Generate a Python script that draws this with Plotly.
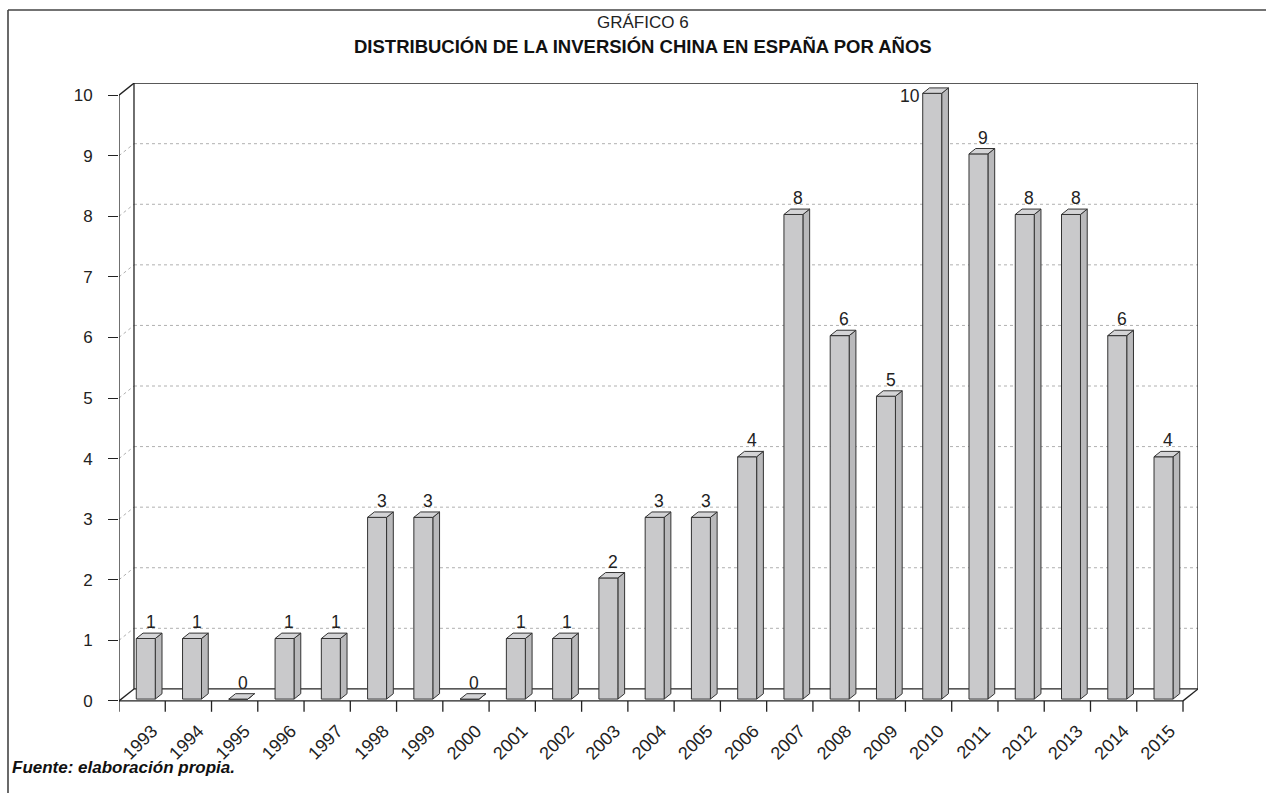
import plotly.graph_objects as go

# data
years = [str(y) for y in range(1993, 2016)]
values = [1, 1, 0, 1, 1, 3, 3, 0, 1, 1, 2, 3, 3, 4, 8, 6, 5, 10, 9, 8, 8, 6, 4]
y_ticks = list(range(0, 11))

W, H = 1266, 793
L, R, T, B = 119, 68, 83, 80
FONT = 'Liberation Sans, Arial, Helvetica, sans-serif'
INK = '#222222'

# fake 3D: depth of the box walls in axis units
DX, DY = 0.324, 0.198
X0, X1 = -0.5, len(years) - 0.5
YTOP = max(y_ticks)
# bars sit between these depth fractions
F0, F1 = 0.15, 0.6
HW, SHIFT = 0.205, 0.03


def px(x, y):
    """pixel position -> paper coords"""
    return (x - L) / (W - L - R), (H - B - y) / (H - T - B)


def box_faces(vals):
    front_x, front_y, side_x, side_y, top_x, top_y = [], [], [], [], [], []
    d = (F1 - F0) * DX
    for i, v in enumerate(vals):
        xl = i + SHIFT - HW + F0 * DX
        xr = i + SHIFT + HW + F0 * DX
        yb = F0 * DY
        yt = v + F0 * DY
        front_x += [xl, xr, xr, xl, xl, None]
        front_y += [yb, yb, yt, yt, yb, None]
        side_x += [xr, xr + d, xr + d, xr, xr, None]
        side_y += [yb, yb + (F1 - F0) * DY, yt + (F1 - F0) * DY, yt, yb, None]
        top_x += [xl, xr, xr + d, xl + d, xl, None]
        top_y += [yt, yt, yt + (F1 - F0) * DY, yt + (F1 - F0) * DY, yt, None]
    return (front_x, front_y), (side_x, side_y), (top_x, top_y)


fig = go.Figure()
front, side, top = box_faces(values)
for (xs, ys), col in [(side, '#b9b9bb'), (front, '#c9c9cb'), (top, '#d4d4d6')]:
    fig.add_trace(go.Scatter(
        x=xs, y=ys, mode='lines', fill='toself', fillcolor=col,
        line=dict(color='#333333', width=1), hoverinfo='skip', showlegend=False,
    ))

shapes = []


def seg(x0, y0, x1, y1, color=INK, width=1.3, dash='solid'):
    shapes.append(dict(type='line', xref='x', yref='y', x0=x0, y0=y0, x1=x1, y1=y1,
                       line=dict(color=color, width=width, dash=dash), layer='below'))


# gridlines on back wall + left wall
for k in y_ticks[1:-1]:
    seg(X0 + DX, k + DY, X1 + DX, k + DY, color='#b0b0b0', width=1, dash='dot')
    seg(X0, k, X0 + DX, k + DY, color='#b0b0b0', width=1, dash='dot')

# walls and floor
seg(X0, 0, X0, YTOP)
seg(X0, YTOP, X0 + DX, YTOP + DY)
seg(X0, 0, X0 + DX, DY)
seg(X0 + DX, DY, X0 + DX, YTOP + DY)
seg(X0 + DX, YTOP + DY, X1 + DX, YTOP + DY)
seg(X1 + DX, DY, X1 + DX, YTOP + DY)
seg(X0 + DX, DY, X1 + DX, DY)
seg(X0, 0, X1, 0)
seg(X1, 0, X1 + DX, DY)
for k in range(len(years) + 1):
    seg(X0 + k, 0, X0 + k, -0.18)

# outer frame of the page
fx0, fy0 = px(8, 10)
fx1, fy1 = px(W, H)
shapes.append(dict(type='line', xref='paper', yref='paper', x0=fx0, y0=fy0, x1=fx1, y1=fy0,
                   line=dict(color='#444444', width=1.6)))
shapes.append(dict(type='line', xref='paper', yref='paper', x0=fx0, y0=fy0, x1=fx0, y1=fy1,
                   line=dict(color='#444444', width=1.6)))

annotations = []
vmax = max(values)
for i, v in enumerate(values):
    if v == vmax:
        annotations.append(dict(
            x=i + SHIFT - HW + F0 * DX, y=v + F0 * DY, text=str(v), showarrow=False,
            xanchor='right', yanchor='middle', xshift=-1, yshift=-3,
            font=dict(size=17.5, color=INK, family=FONT)))
    else:
        annotations.append(dict(
            x=i + SHIFT + F0 * DX + (F1 - F0) * DX / 2 + 0.03, y=v + F1 * DY, text=str(v),
            showarrow=False, xanchor='center', yanchor='bottom', yshift=-1,
            font=dict(size=17.5, color=INK, family=FONT)))

tx, ty = px(643, 23)
annotations.append(dict(xref='paper', yref='paper', x=tx, y=ty, text='GRÁFICO 6', showarrow=False,
                        xanchor='center', yanchor='middle', font=dict(size=17, color=INK, family=FONT)))
tx, ty = px(643, 47)
annotations.append(dict(xref='paper', yref='paper', x=tx, y=ty,
                        text='<b>DISTRIBUCIÓN DE LA INVERSIÓN CHINA EN ESPAÑA POR AÑOS</b>',
                        showarrow=False, xanchor='center', yanchor='middle',
                        font=dict(size=18.5, color='#111111', family=FONT)))
tx, ty = px(10, 767)
annotations.append(dict(xref='paper', yref='paper', x=tx, y=ty,
                        text='<b><i>Fuente: elaboración propia.</i></b>',
                        showarrow=False, xanchor='left', yanchor='middle',
                        font=dict(size=17, color='#111111', family=FONT)))

fig.update_layout(
    width=W, height=H, autosize=False,
    margin=dict(l=L, r=R, t=T, b=B, pad=0),
    paper_bgcolor='white', plot_bgcolor='white',
    shapes=shapes, annotations=annotations, showlegend=False,
    xaxis=dict(range=[X0, X1 + DX], showgrid=False, zeroline=False, showline=False,
               tickvals=[i + 0.22 for i in range(len(years))], ticktext=years,
               tickangle=-45, ticks='', ticklabelstandoff=3,
               tickfont=dict(size=18, color=INK, family=FONT)),
    yaxis=dict(range=[-0.2, YTOP + 0.2], showgrid=False, zeroline=False, showline=False,
               tickvals=y_ticks, ticks='outside', ticklen=10, tickcolor=INK, tickwidth=1.3,
               ticklabelstandoff=12,
               tickfont=dict(size=17, color=INK, family=FONT)),
)

# browser default body margin would shift the whole chart by 8px
fig.write_html("out.html", config={'displayModeBar': False},
               post_script="document.body.style.margin='0';")
